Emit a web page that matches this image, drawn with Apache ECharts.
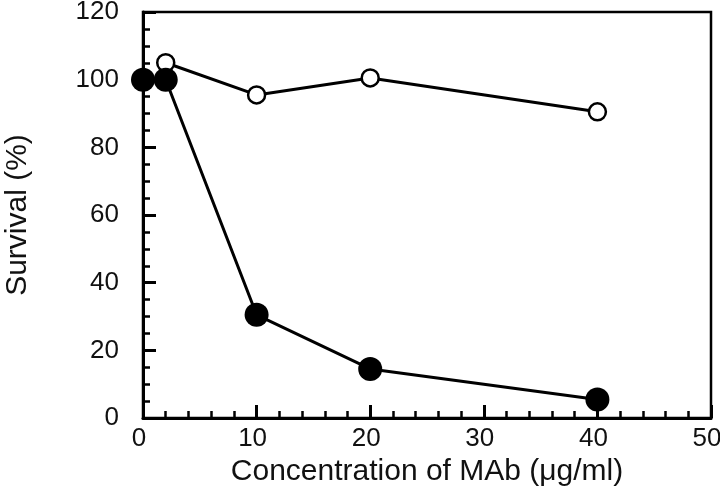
<!DOCTYPE html>
<html>
<head>
<meta charset="utf-8">
<script src="https://cdn.jsdelivr.net/npm/echarts@6/dist/echarts.min.js"></script>
<style>
html,body{margin:0;padding:0;background:#fff;}
#chart{width:720px;height:490px;}
</style>
</head>
<body>
<div id="chart"></div>
<script>
// Data
var controlX = [2, 10, 20, 40];
var controlY = [105, 95.5, 100.5, 90.5];
var mabX = [0, 2, 10, 20, 40];
var mabY = [100, 100, 30.5, 14.5, 5.5];
var xTitle = 'Concentration of MAb (\u03bcg/ml)';
var yTitle = 'Survival (%)';

function pairs(xs, ys) { return xs.map(function (x, i) { return [x, ys[i]]; }); }

var chart = echarts.init(document.getElementById('chart'));
var font = 'Liberation Sans, Arial, Helvetica, sans-serif';
chart.setOption({
  animation: false,
  backgroundColor: '#fff',
  grid: { left: 143, right: 9, top: 12, bottom: 72, show: true, borderColor: '#000', borderWidth: 2.5,
          containLabel: false, outerBoundsMode: 'none' },
  xAxis: {
    type: 'value', min: 0, max: 50, interval: 10,
    name: xTitle, nameLocation: 'middle', nameGap: 36,
    nameTextStyle: { fontFamily: font, fontSize: 30, color: '#111' },
    axisLine: { lineStyle: { color: '#000', width: 3 } },
    axisTick: { inside: true, length: 13, lineStyle: { color: '#000', width: 3 } },
    minorTick: { show: true, splitNumber: 5, length: 7, lineStyle: { color: '#000', width: 2.5 } },
    axisLabel: { fontFamily: font, fontSize: 26, color: '#111', margin: 8, padding: [0, 8, 0, 0] },
    splitLine: { show: false }
  },
  yAxis: {
    type: 'value', min: 0, max: 120, interval: 20,
    name: yTitle, nameLocation: 'middle', nameGap: 110,
    nameTextStyle: { fontFamily: font, fontSize: 30, color: '#111' },
    axisLine: { lineStyle: { color: '#000', width: 3 } },
    axisTick: { inside: true, length: 13, lineStyle: { color: '#000', width: 3 } },
    minorTick: { show: true, splitNumber: 4, length: 7, lineStyle: { color: '#000', width: 2.5 } },
    axisLabel: { fontFamily: font, fontSize: 26, color: '#111', margin: 24 },
    splitLine: { show: false }
  },
  series: [
    {
      type: 'line', data: pairs(controlX, controlY), clip: false,
      symbol: 'circle', symbolSize: 17,
      lineStyle: { color: '#000', width: 3 },
      itemStyle: { color: '#fff', borderColor: '#000', borderWidth: 2.5 },
      z: 2
    },
    {
      type: 'line', data: pairs(mabX, mabY), clip: false,
      symbol: 'circle', symbolSize: 24,
      lineStyle: { color: '#000', width: 3 },
      itemStyle: { color: '#000', borderColor: '#000', borderWidth: 0 },
      z: 3
    }
  ]
});
</script>
</body>
</html>
